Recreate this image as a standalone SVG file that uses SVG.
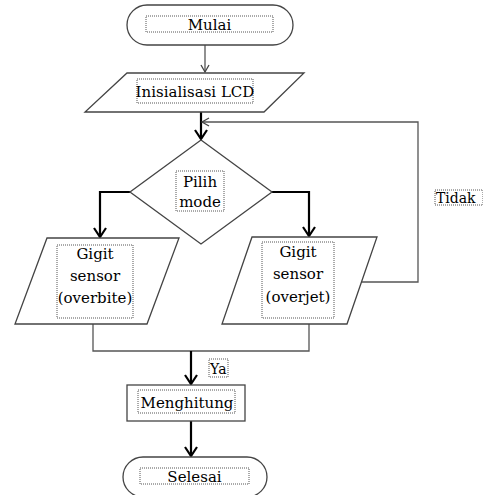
<svg xmlns="http://www.w3.org/2000/svg" width="483" height="495" viewBox="0 0 483 495">
<style>
.shape{fill:#fff;stroke:#444;stroke-width:1.3}
.tb{fill:none;stroke:#555;stroke-width:1;stroke-dasharray:1 1}
text{font-family:'DejaVu Serif',serif}
.t{font-size:15px;fill:#000;text-anchor:middle}
.ts{font-size:14px;fill:#000}
.thin{fill:none;stroke:#555;stroke-width:1.3}
.thick{fill:none;stroke:#000;stroke-width:2.2}
</style>
<defs>
<marker id="aThin" markerUnits="userSpaceOnUse" markerWidth="12" markerHeight="12" refX="8" refY="5" orient="auto">
<path d="M1,1 L8,5 L1,9" fill="none" stroke="#444" stroke-width="1.3"/>
</marker>
<marker id="aThick" markerUnits="userSpaceOnUse" markerWidth="14" markerHeight="16" refX="10" refY="7" orient="auto">
<path d="M1,1 L10,7 L1,13" fill="none" stroke="#000" stroke-width="2.2"/>
</marker>
</defs>
<g id="connectors">
<line class="thin" x1="205" y1="45" x2="205" y2="72" marker-end="url(#aThin)"/>
<line class="thick" x1="201" y1="112" x2="201" y2="139" marker-end="url(#aThick)"/>
<polyline class="thin" points="362,282 418,282 418,122 202,122" marker-end="url(#aThin)"/>
<polyline class="thick" points="130,192 100,192 100,237" marker-end="url(#aThick)"/>
<polyline class="thick" points="272,192 309,192 309,236" marker-end="url(#aThick)"/>
<polyline class="thin" points="93,324 93,351 309,351 309,324"/>
<line class="thick" x1="191" y1="351" x2="191" y2="384" marker-end="url(#aThick)"/>
<line class="thick" x1="191" y1="421" x2="191" y2="456" marker-end="url(#aThick)"/>
</g>
<g id="mulai">
<rect class="shape" x="127" y="5" width="166" height="40" rx="20"/>
<rect class="tb" x="146" y="16" width="127" height="16"/>
<text class="t" x="209.5" y="30">Mulai</text>
</g>
<g id="inisialisasi">
<polygon class="shape" points="127,73 304,73 264,112 85,112"/>
<rect class="tb" x="137" y="79" width="116" height="24"/>
<text class="t" x="195" y="97">Inisialisasi LCD</text>
</g>
<g id="pilih">
<polygon class="shape" points="201,140 272,192 201,244 130,192"/>
<rect class="tb" x="176" y="171" width="48" height="40"/>
<text class="t" x="200" y="187">Pilih</text>
<text class="t" x="200" y="207">mode</text>
</g>
<g id="overbite">
<polygon class="shape" points="47,238 179,238 147,324 15,324"/>
<rect class="tb" x="57" y="245" width="76" height="73"/>
<text class="t" x="95" y="259">Gigit</text>
<text class="t" x="95" y="281">sensor</text>
<text class="t" x="95" y="303">(overbite)</text>
</g>
<g id="overjet">
<polygon class="shape" points="252,237 377,237 347,324 222,324"/>
<rect class="tb" x="262" y="242" width="72" height="76"/>
<text class="t" x="298" y="257">Gigit</text>
<text class="t" x="298" y="279">sensor</text>
<text class="t" x="298" y="302">(overjet)</text>
</g>
<g id="tidak">
<rect class="tb" x="435" y="190" width="48" height="15"/>
<text class="ts" x="436" y="203">Tidak</text>
</g>
<g id="ya">
<rect class="tb" x="209" y="359" width="19" height="18"/>
<text class="ts" x="210" y="374">Ya</text>
</g>
<g id="menghitung">
<rect class="shape" x="127" y="385" width="118" height="36"/>
<rect class="tb" x="138" y="390" width="97" height="23"/>
<text class="t" x="187" y="408">Menghitung</text>
</g>
<g id="selesai">
<rect class="shape" x="123" y="457" width="144" height="40" rx="20"/>
<rect class="tb" x="140" y="468" width="109" height="16"/>
<text class="t" x="194.5" y="482">Selesai</text>
</g>
</svg>
